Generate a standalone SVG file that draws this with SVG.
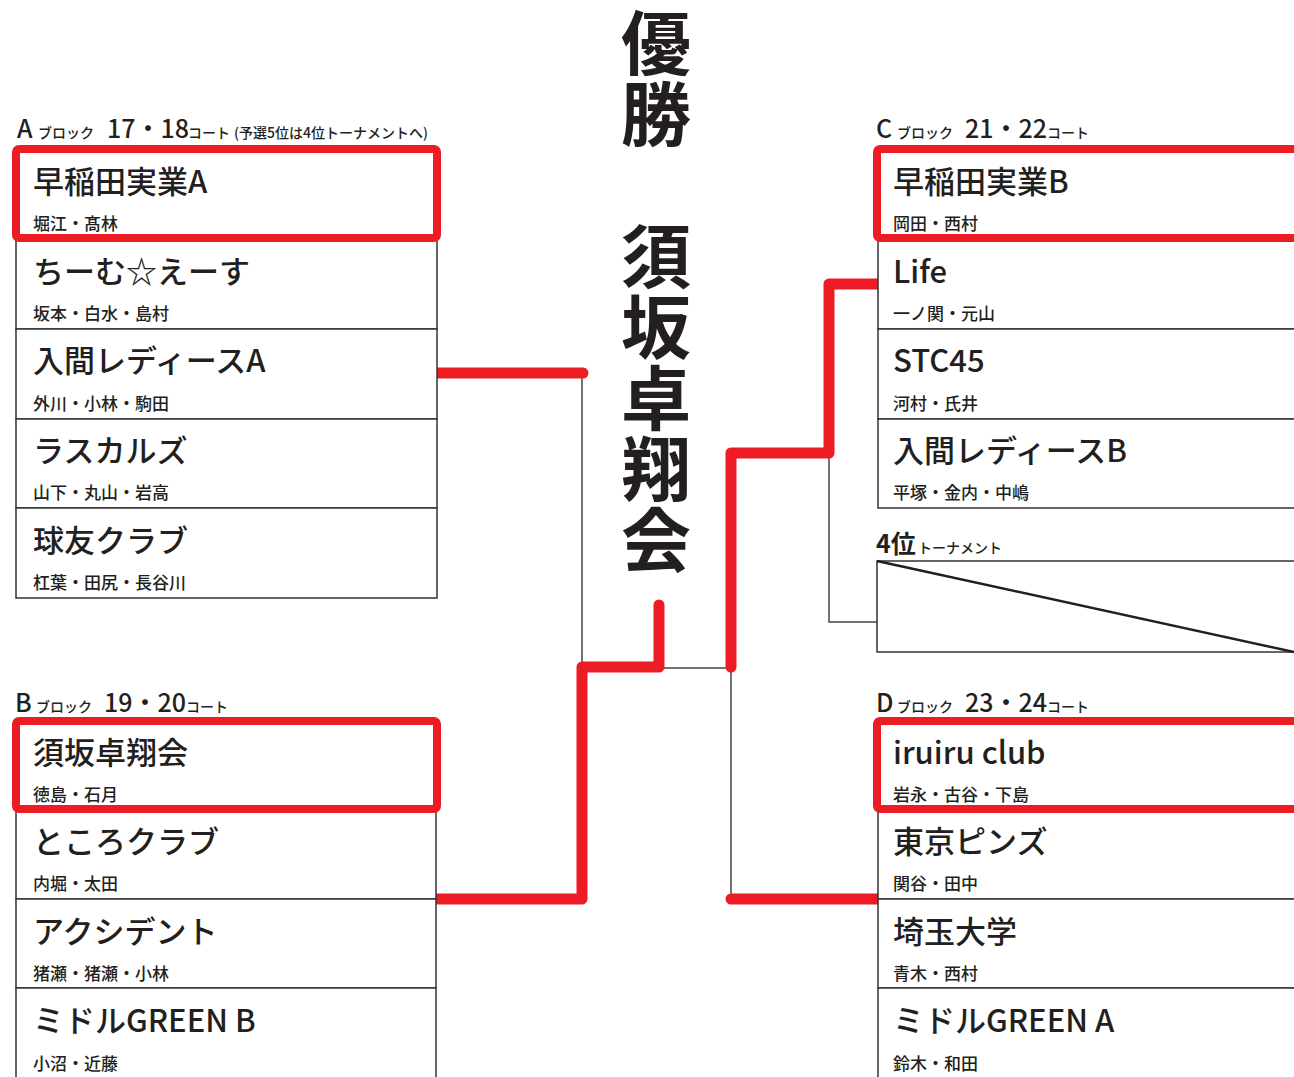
<svg xmlns="http://www.w3.org/2000/svg" width="1294" height="1077" viewBox="0 0 1294 1077">
<style>
text{font-family:"Noto Sans CJK JP","Noto Sans",sans-serif;fill:#231f20}
.name{font-size:31px;font-weight:500}
.mem{font-size:17px;font-weight:500}
.hbig{font-size:25px;font-weight:500}
.hsm{font-size:14px;font-weight:500}
.title{font-size:70px;font-weight:700;writing-mode:vertical-rl;letter-spacing:1px}
.row{fill:#fff;stroke:#333;stroke-width:1.5}
.win{fill:none;stroke:#ed1c24;stroke-width:8;stroke-linejoin:round}
.red{fill:none;stroke:#ed1c24;stroke-width:11;stroke-linecap:round;stroke-linejoin:round}
.gray{fill:none;stroke:#444;stroke-width:1.5}
</style>
<rect width="1294" height="1077" fill="#fff"/>

<g id="connectors">
<path class="gray" d="M582 373V667"/>
<path class="gray" d="M659 668H731"/>
<path class="gray" d="M731 668V899"/>
<path class="gray" d="M829 453V622H878"/>
<path class="red" d="M436 373H583"/>
<path class="red" d="M436 899H582V667H659V605"/>
<path class="red" d="M731 667V453H829V284H878"/>
<path class="red" d="M731 899H878"/>
</g>

<g id="title">
<text class="title" x="656" y="8">優勝　須坂卓翔会</text>
</g>

<g id="header-a"><text y="138"><tspan class="hbig" x="17">A</tspan><tspan class="hsm" x="38">ブロック</tspan><tspan class="hbig" x="107">17・18</tspan><tspan class="hsm" x="188">コート</tspan><tspan class="hsm" x="234">(予選5位は4位トーナメントへ)</tspan></text></g>
<g id="header-b"><text y="712"><tspan class="hbig" x="15">B</tspan><tspan class="hsm" x="36">ブロック</tspan><tspan class="hbig" x="104">19・20</tspan><tspan class="hsm" x="186">コート</tspan></text></g>
<g id="header-c"><text y="138"><tspan class="hbig" x="876">C</tspan><tspan class="hsm" x="897">ブロック</tspan><tspan class="hbig" x="965">21・22</tspan><tspan class="hsm" x="1047">コート</tspan></text></g>
<g id="header-d"><text y="712"><tspan class="hbig" x="876">D</tspan><tspan class="hsm" x="897">ブロック</tspan><tspan class="hbig" x="965">23・24</tspan><tspan class="hsm" x="1047">コート</tspan></text></g>

<g id="a1"><rect class="row" x="16" y="149" width="421" height="90"/><text class="name" x="33" y="193">早稲田実業A</text><text class="mem" x="33" y="230">堀江・髙林</text></g>
<g id="a2"><rect class="row" x="16" y="239" width="421" height="90"/><text class="name" x="33" y="283">ちーむ☆えーす</text><text class="mem" x="33" y="320">坂本・白水・島村</text></g>
<g id="a3"><rect class="row" x="16" y="329" width="421" height="90"/><text class="name" x="33" y="372">入間レディースA</text><text class="mem" x="33" y="410">外川・小林・駒田</text></g>
<g id="a4"><rect class="row" x="16" y="419" width="421" height="89"/><text class="name" x="33" y="462">ラスカルズ</text><text class="mem" x="33" y="499">山下・丸山・岩高</text></g>
<g id="a5"><rect class="row" x="16" y="508" width="421" height="90"/><text class="name" x="33" y="552">球友クラブ</text><text class="mem" x="33" y="589">杠葉・田尻・長谷川</text></g>
<rect class="win" x="16" y="149" width="421" height="89" rx="3"/>

<g id="b1"><rect class="row" x="16" y="721" width="420" height="88"/><text class="name" x="33" y="764">須坂卓翔会</text><text class="mem" x="33" y="801">徳島・石月</text></g>
<g id="b2"><rect class="row" x="16" y="809" width="420" height="90"/><text class="name" x="33" y="853">ところクラブ</text><text class="mem" x="33" y="890">内堀・太田</text></g>
<g id="b3"><rect class="row" x="16" y="899" width="420" height="89"/><text class="name" x="33" y="943">アクシデント</text><text class="mem" x="33" y="980">猪瀬・猪瀬・小林</text></g>
<g id="b4"><rect class="row" x="16" y="988" width="420" height="100"/><text class="name" x="33" y="1032">ミドルGREEN B</text><text class="mem" x="33" y="1070">小沼・近藤</text></g>
<rect class="win" x="16" y="721" width="421" height="88" rx="3"/>

<g id="c1"><rect class="row" x="878" y="149" width="500" height="90"/><text class="name" x="893" y="193">早稲田実業B</text><text class="mem" x="893" y="230">岡田・西村</text></g>
<g id="c2"><rect class="row" x="878" y="239" width="500" height="90"/><text class="name" x="893" y="283">Life</text><text class="mem" x="893" y="320">一ノ関・元山</text></g>
<g id="c3"><rect class="row" x="878" y="329" width="500" height="90"/><text class="name" x="893" y="372">STC45</text><text class="mem" x="893" y="410">河村・氏井</text></g>
<g id="c4"><rect class="row" x="878" y="419" width="500" height="89"/><text class="name" x="893" y="462">入間レディースB</text><text class="mem" x="893" y="499">平塚・金内・中嶋</text></g>
<rect class="win" x="877" y="149" width="440" height="89" rx="3"/>

<g id="fourth"><text y="553"><tspan x="876" style="font-size:25px;font-weight:700">4位</tspan><tspan x="918" class="hsm">トーナメント</tspan></text><rect class="row" x="877" y="561" width="500" height="91"/><line x1="877" y1="561" x2="1294" y2="652" stroke="#231f20" stroke-width="2.5"/></g>

<g id="d1"><rect class="row" x="878" y="721" width="500" height="88"/><text class="name" x="893" y="764">iruiru club</text><text class="mem" x="893" y="801">岩永・古谷・下島</text></g>
<g id="d2"><rect class="row" x="878" y="809" width="500" height="90"/><text class="name" x="893" y="853">東京ピンズ</text><text class="mem" x="893" y="890">関谷・田中</text></g>
<g id="d3"><rect class="row" x="878" y="899" width="500" height="89"/><text class="name" x="893" y="943">埼玉大学</text><text class="mem" x="893" y="980">青木・西村</text></g>
<g id="d4"><rect class="row" x="878" y="988" width="500" height="100"/><text class="name" x="893" y="1032">ミドルGREEN A</text><text class="mem" x="893" y="1070">鈴木・和田</text></g>
<rect class="win" x="877" y="721" width="440" height="88" rx="3"/>
</svg>
